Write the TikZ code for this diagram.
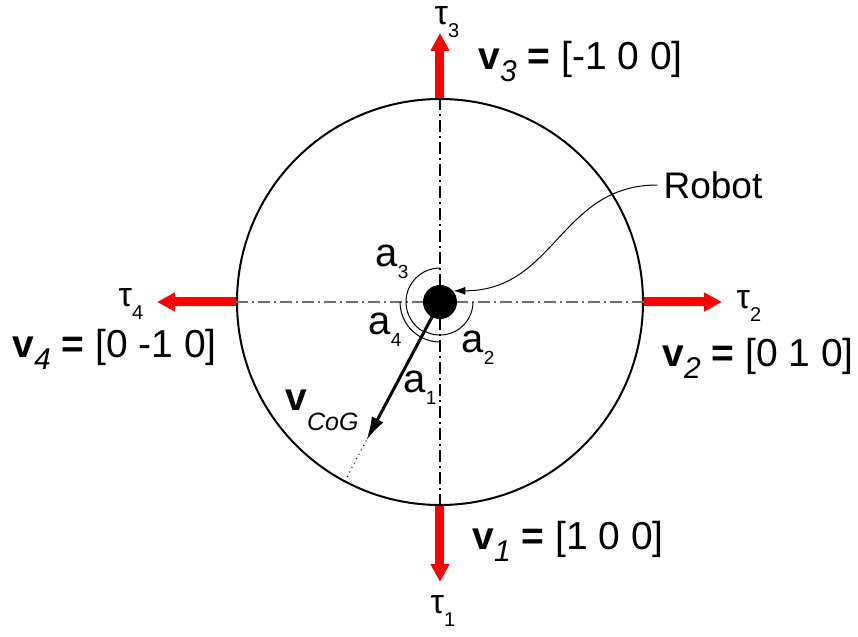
\documentclass[tikz,border=0pt]{standalone}
\usepackage{amsmath}
\usepackage{fontspec}
\setmainfont{Liberation Sans}
\usepackage{tikz}
\usetikzlibrary{arrows.meta, positioning}
\definecolor{forceRed}{HTML}{FF0000}
\definecolor{axisGray}{HTML}{6E6E6E}
\newcommand\vidx[1]{\raisebox{-5.9pt}{\fontsize{15}{15}\selectfont\itshape #1}}
\newcommand\tidx[1]{\raisebox{-6.5pt}{\fontsize{10}{10}\selectfont #1}}
\newcommand\aidx[1]{\raisebox{-6pt}{\fontsize{9.5}{10}\selectfont #1}}

\begin{document}
\begin{tikzpicture}[
    x=0.5pt, y=0.5pt,
    force/.style={-{Triangle[length=9pt,width=9pt]}, line width=4.5pt, color=forceRed},
    axis/.style={line width=0.7pt, dash pattern=on 6pt off 2pt on 1pt off 2pt},
    angarc/.style={line width=0.5pt},
    vlabel/.style={font=\fontsize{19.5}{22}\selectfont, anchor=base west, inner sep=0pt},
    taulabel/.style={font=\fontsize{17}{18}\selectfont, inner sep=0pt},
    alabel/.style={font=\fontsize{20}{22}\selectfont, inner sep=0pt},
]
\useasboundingbox (-440,-335) rectangle (418,302);

% Wheel and axes
\node[circle, draw, line width=1pt, minimum size=203pt, inner sep=0pt] (wheel) at (0,0) {};
\draw[axis, color=axisGray] (wheel.west) -- (wheel.east);
\draw[axis] (wheel.south) -- (wheel.north);

% Angles
\coordinate (c) at (0,0);
\draw[angarc] (c) ++(90:34) arc[start angle=90, end angle=242, radius=34];
\draw[angarc] (c) ++(242:33) arc[start angle=242, end angle=360, radius=33];
\draw[angarc] (c) ++(180:40) arc[start angle=180, end angle=242, radius=40];
\draw[angarc] (c) ++(242:40) arc[start angle=242, end angle=270, radius=40];

% Centre of gravity
\coordinate (cogtip) at (242:157);
\draw[line width=1.5pt, -{Latex[length=12pt,width=6.5pt]}] (c) -- (cogtip);
\draw[dotted, line width=0.5pt] (cogtip) -- (wheel.242);

% Robot
\node[circle, fill=black, minimum size=17pt, inner sep=0pt] (robotdot) at (0,0) {};
\node[font=\fontsize{18.5}{20}\selectfont, inner sep=3pt] (robotname) at (273,117) {Robot};
\draw[line width=0.5pt, -{Latex[length=6pt,width=4pt]}] (robotname.west) .. controls +(-97,0) and +(102,0) .. (robotdot.40);

% Forces
\coordinate (tip1) at (0,-280);
\coordinate (tip2) at (282,0);
\coordinate (tip3) at (0,269);
\coordinate (tip4) at (-283,0);
\draw[force] (wheel.south) -- (tip1);
\draw[force] (wheel.east) -- (tip2);
\draw[force] (wheel.north) -- (tip3);
\draw[force] (wheel.west) -- (tip4);

\node[taulabel] (tau1) at (3,-309) {τ\tidx{1}};
\node[taulabel] (tau2) at (309,-4) {τ\tidx{2}};
\node[taulabel] (tau3) at (7,280) {τ\tidx{3}};
\node[taulabel] (tau4) at (-309,-2) {τ\tidx{4}};

\node[vlabel] (v1) at (32,-248) {\textbf{v}\vidx{1} \textbf{=} [1 0 0]};
\node[vlabel] (v2) at (222,-65) {\textbf{v}\vidx{2} \textbf{=} [0 1 0]};
\node[vlabel] (v3) at (38,232) {\textbf{v}\vidx{3} \textbf{=} [-1 0 0]};
\node[vlabel] (v4) at (-428,-56) {\textbf{v}\vidx{4} \textbf{=} [0 -1 0]};

\node[alabel] (a1) at (-20,-86) {a\aidx{1}};
\node[alabel] (a2) at (38,-46) {a\aidx{2}};
\node[alabel] (a3) at (-48,40) {a\aidx{3}};
\node[alabel] (a4) at (-55,-28) {a\aidx{4}};

\node[vlabel, anchor=center] (vcog) at (-118,-108) {\textbf{v}\raisebox{-10pt}{\fontsize{12.5}{13}\selectfont\itshape CoG}};

\end{tikzpicture}
\end{document}
